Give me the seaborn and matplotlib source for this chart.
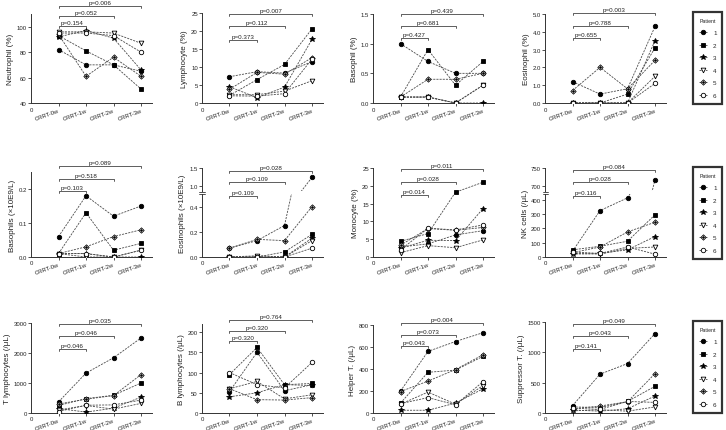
import matplotlib
matplotlib.use('Agg')
import matplotlib.pyplot as plt
import matplotlib.transforms as mtransforms
from matplotlib.path import Path
from matplotlib.lines import Line2D
import pandas as pd
import seaborn as sns

sns.set_style('ticks')
plt.rcParams['font.family'] = ['Liberation Sans', 'DejaVu Sans']

timepoints = ['CRRT-0w', 'CRRT-1w', 'CRRT-2w', 'CRRT-3w']
patients = ['1', '2', '3', '4', '5', '6']

# rows = patients 1..6, columns = timepoints
neutrophil_pct = [[82, 70, 70, 65], [93, 81, 70, 51], [92, 97, 91, 66],
                  [96, 96, 95, 87], [94, 61, 76, 61], [95, 95, 93, 80]]
lymphocyte_pct = [[7.3, 8.7, 8.3, 11.5], [2.1, 6.5, 10.7, 20.6], [4.5, 1.5, 4.4, 17.7],
                  [2.3, 2.3, 3.3, 6.2], [3.8, 8.5, 8.0, 12.6], [2.0, 1.9, 2.6, 12.2]]
basophil_pct = [[1.0, 0.7, 0.5, 0.5], [0.1, 0.9, 0.3, 0.7], [0.1, 0.1, 0.0, 0.0],
                [0.1, 0.1, 0.0, 0.3], [0.1, 0.4, 0.4, 0.5], [0.1, 0.1, 0.0, 0.3]]
eosinophil_pct = [[1.2, 0.5, 0.8, 4.3], [0.0, 0.0, 0.5, 3.1], [0.0, 0.0, 0.0, 3.5],
                  [0.0, 0.0, 0.0, 1.5], [0.7, 2.0, 0.8, 2.4], [0.0, 0.0, 0.0, 1.1]]
basophils_abs = [[0.06, 0.18, 0.12, 0.15], [0.01, 0.13, 0.02, 0.04], [0.01, 0.01, 0.0, 0.0],
                 [0.01, 0.0, 0.0, 0.02], [0.01, 0.03, 0.06, 0.08], [0.01, 0.01, 0.0, 0.02]]
eosinophils_abs = [[0.07, 0.13, 0.25, 1.24], [0.0, 0.0, 0.04, 0.18], [0.0, 0.0, 0.0, 0.15],
                   [0.0, 0.01, 0.0, 0.13], [0.07, 0.14, 0.13, 0.40], [0.0, 0.0, 0.0, 0.07]]
monocyte_pct = [[2.8, 3.7, 6.2, 7.4], [4.4, 6.6, 18.2, 21.0], [2.5, 4.7, 4.6, 13.6],
                [1.2, 3.2, 2.6, 4.8], [3.3, 8.0, 7.5, 8.3], [2.0, 8.1, 7.6, 9.0]]
nk_cells = [[40, 324, 413, 717], [50, 75, 110, 295], [20, 25, 50, 143],
            [25, 20, 60, 70], [30, 70, 175, 243], [35, 25, 70, 20]]
t_lymph = [[370, 1330, 1840, 2500], [250, 480, 590, 1000], [150, 30, 160, 530],
           [100, 250, 130, 320], [300, 460, 580, 1280], [50, 260, 270, 430]]
b_lymph = [[53, 150, 55, 70], [95, 162, 70, 73], [40, 50, 70, 68],
           [60, 78, 35, 45], [60, 33, 32, 38], [100, 70, 62, 125]]
helper_t = [[200, 560, 650, 730], [90, 370, 390, 515], [25, 25, 90, 220],
            [80, 190, 80, 250], [195, 290, 395, 530], [85, 140, 75, 285]]
suppressor_t = [[120, 640, 815, 1310], [100, 90, 190, 440], [50, 30, 70, 280],
                [35, 55, 30, 100], [70, 115, 185, 650], [80, 60, 190, 175]]

# p-values: vs 1w, 2w, 3w
p_neutrophil = ['p=0.154', 'p=0.052', 'p=0.006']
p_lymphocyte = ['p=0.373', 'p=0.112', 'p=0.007']
p_basophil = ['p=0.427', 'p=0.681', 'p=0.439']
p_eosinophil = ['p=0.655', 'p=0.788', 'p=0.003']
p_basophils = ['p=0.103', 'p=0.518', 'p=0.089']
p_eosinophils = ['p=0.109', 'p=0.109', 'p=0.028']
p_monocyte = ['p=0.014', 'p=0.028', 'p=0.011']
p_nk = ['p=0.116', 'p=0.028', 'p=0.084']
p_t = ['p=0.046', 'p=0.046', 'p=0.035']
p_b = ['p=0.320', 'p=0.320', 'p=0.764']
p_helper = ['p=0.043', 'p=0.073', 'p=0.004']
p_suppressor = ['p=0.141', 'p=0.043', 'p=0.049']

W, H = 726, 431
fig = plt.figure(figsize=(W / 100, H / 100), dpi=100)
fig.patch.set_facecolor('white')
px_tr = mtransforms.Affine2D().scale(1 / W, -1 / H).translate(0, 1) + fig.transFigure

LINE_C = '#4a4a4a'
AX_C = '#333333'
diamond_cross = Path([(0, 1), (1, 0), (0, -1), (-1, 0), (0, 1), (0, 0.55), (0, -0.55), (-0.55, 0), (0.55, 0)],
                     [Path.MOVETO, Path.LINETO, Path.LINETO, Path.LINETO, Path.CLOSEPOLY,
                      Path.MOVETO, Path.LINETO, Path.MOVETO, Path.LINETO])
MARKERS = ['o', 's', '*', 'v', diamond_cross, 'o']
MS = [3.2, 3.2, 4.2, 3.4, 3.8, 3.2]
FACES = ['black', 'black', 'black', 'white', 'white', 'white']
LS = (0, (2.5, 1.3))

COLS = [31, 202, 373, 545]
AX_W = 121
XLIM = (-1.0, 3.4)


def add_ax(left, top, bottom):
    return fig.add_axes([left / W, 1 - bottom / H, AX_W / W, (bottom - top) / H])


def draw_series(ax, data):
    for i in range(len(patients)):
        df = pd.DataFrame({'t': list(range(len(timepoints))), 'v': data[i]})
        sns.lineplot(data=df, x='t', y='v', ax=ax, estimator=None, errorbar=None, sort=False,
                     color=LINE_C, linewidth=0.6, linestyle=LS, marker=MARKERS[i],
                     markersize=MS[i], markerfacecolor=FACES[i], markeredgecolor='black',
                     markeredgewidth=0.6, legend=False, zorder=3, clip_on=True)
    ax.set_xlabel('')
    ax.set_ylabel('')


def style_ax(ax, ylim, yticks, ylabels, show_x=True, show_top=False):
    ax.set_xlim(*XLIM)
    ax.set_ylim(*ylim)
    ax.set_yticks(yticks)
    ax.set_yticklabels(ylabels)
    ax.patch.set_alpha(0)
    ax.spines['top'].set_visible(False)
    ax.spines['right'].set_visible(False)
    for s in ['left', 'bottom']:
        ax.spines[s].set_linewidth(0.7)
        ax.spines[s].set_color(AX_C)
    ax.tick_params(axis='both', length=2, width=0.6, color=AX_C, labelsize=4.3, pad=1,
                   labelcolor='#222222')
    if show_x:
        ax.set_xticks(range(len(timepoints)))
        ax.set_xticklabels(timepoints, rotation=20, ha='right', rotation_mode='anchor', fontsize=4.2)
    else:
        ax.spines['bottom'].set_visible(False)
        ax.set_xticks([])


def brackets(ax, ys, pvals):
    tr = mtransforms.blended_transform_factory(ax.transData, px_tr)
    for k, (y, p) in enumerate(zip(ys, pvals), start=1):
        ax.plot([0, 0, k, k], [y + 2, y, y, y + 2], transform=tr, clip_on=False,
                color='#444444', lw=0.6)
        ax.text(k / 2, y - 1.2, p, transform=tr, ha='center', va='bottom', fontsize=4.5,
                color='#222222')


def origin_zero(left, bottom):
    fig.text(left / W, 1 - (bottom + 6) / H, '0', ha='center', va='center', fontsize=4.3,
             color='#222222')


panels = [
    dict(col=0, top=15, bottom=104, data=neutrophil_pct, label='Neutrophil (%)', ylim=(40, 110),
         yt=[40, 60, 80, 100], yl=['40', '60', '80', '100'], br=[27, 17, 7], p=p_neutrophil),
    dict(col=1, top=14, bottom=104, data=lymphocyte_pct, label='Lymphocyte (%)', ylim=(0, 25),
         yt=[0, 5, 10, 15, 20, 25], yl=['0', '5', '10', '15', '20', '25'], br=[41, 27, 15], p=p_lymphocyte),
    dict(col=2, top=15, bottom=104, data=basophil_pct, label='Basophil (%)', ylim=(0, 1.5),
         yt=[0, 0.5, 1.0, 1.5], yl=['0.0', '0.5', '1.0', '1.5'], br=[39, 27, 15], p=p_basophil),
    dict(col=3, top=15, bottom=104, data=eosinophil_pct, label='Eosinophil (%)', ylim=(0, 5),
         yt=[0, 1, 2, 3, 4, 5], yl=['0.0', '1.0', '2.0', '3.0', '4.0', '5.0'], br=[39, 27, 14], p=p_eosinophil),
    dict(col=0, top=173, bottom=258, data=basophils_abs, label='Basophils (×10E9/L)', ylim=(0, 0.25),
         yt=[0, 0.1, 0.2], yl=['0.0', '0.1', '0.2'], br=[192, 180, 167], p=p_basophils),
    dict(col=1, top=195, bottom=258, data=eosinophils_abs, label='Eosinophils (×10E9/L)', ylim=(0, 0.5),
         yt=[0, 0.2, 0.4], yl=['0.0', '0.2', '0.4'], br=[197, 183, 172], p=p_eosinophils,
         upper=dict(top=169, bottom=192, ylim=(0.86, 1.5), yt=[1.0, 1.5], yl=['1.0', '1.5'])),
    dict(col=2, top=169, bottom=258, data=monocyte_pct, label='Monocyte (%)', ylim=(0, 25),
         yt=[0, 5, 10, 15, 20, 25], yl=['0', '5', '10', '15', '20', '25'], br=[196, 183, 170], p=p_monocyte),
    dict(col=3, top=195, bottom=258, data=nk_cells, label='NK cells (/μL)', ylim=(0, 440),
         yt=[0, 100, 200, 300, 400], yl=['0', '100', '200', '300', '400'], br=[197, 183, 171], p=p_nk,
         upper=dict(top=169, bottom=192, ylim=(686, 750), yt=[700, 750], yl=['700', '750'])),
    dict(col=0, top=324, bottom=414, data=t_lymph, label='T lymphocytes (/μL)', ylim=(0, 3000),
         yt=[0, 1000, 2000, 3000], yl=['0', '1000', '2000', '3000'], br=[350, 337, 325], p=p_t),
    dict(col=1, top=325, bottom=414, data=b_lymph, label='B lymphocytes (/μL)', ylim=(0, 220),
         yt=[0, 50, 100, 150, 200], yl=['0', '50', '100', '150', '200'], br=[342, 332, 321], p=p_b),
    dict(col=2, top=326, bottom=414, data=helper_t, label='Helper T. (/μL)', ylim=(0, 800),
         yt=[0, 200, 400, 600, 800], yl=['0', '200', '400', '600', '800'], br=[347, 336, 324], p=p_helper),
    dict(col=3, top=323, bottom=414, data=suppressor_t, label='Suppressor T. (/μL)', ylim=(0, 1500),
         yt=[0, 500, 1000, 1500], yl=['0', '500', '1000', '1500'], br=[350, 337, 325], p=p_suppressor),
]

for pn in panels:
    left = COLS[pn['col']]
    ax = add_ax(left, pn['top'], pn['bottom'])
    draw_series(ax, pn['data'])
    style_ax(ax, pn['ylim'], pn['yt'], pn['yl'])
    if 'upper' in pn:
        up = pn['upper']
        axu = add_ax(left, up['top'], up['bottom'])
        draw_series(axu, pn['data'])
        style_ax(axu, up['ylim'], up['yt'], up['yl'], show_x=False)
        # y-label centred on the combined height
        center = (up['top'] + pn['bottom']) / 2
        yfrac = (pn['bottom'] - center) / (pn['bottom'] - pn['top'])
        ax.set_ylabel(pn['label'], fontsize=5.8, color='#222222')
        ax.yaxis.set_label_coords(-0.13, yfrac)
        # small break marks on the y axis
        for yb in [up['bottom'] + 0.5, pn['top'] - 0.5]:
            fig.lines.append(Line2D([(left - 2.5) / W, (left + 2.5) / W], [1 - yb / H, 1 - yb / H],
                                    transform=fig.transFigure, color=AX_C, lw=0.6))
    else:
        ax.set_ylabel(pn['label'], fontsize=5.8, color='#222222', labelpad=2)
    brackets(ax, pn['br'], pn['p'])
    origin_zero(left, pn['bottom'])

handles = [Line2D([], [], color=LINE_C, lw=0.6, linestyle=LS, marker=MARKERS[i], markersize=MS[i],
                  markerfacecolor=FACES[i], markeredgecolor='black', markeredgewidth=0.6)
           for i in range(len(patients))]
for top in [13, 168, 322]:
    leg = fig.legend(handles, patients, title='Patient', loc='upper left',
                     bbox_to_anchor=(693 / W, 1 - top / H), bbox_transform=fig.transFigure,
                     frameon=True, fancybox=False, fontsize=4.5, title_fontsize=3.8,
                     handlelength=1.4, handletextpad=0.9, labelspacing=1.15, borderpad=0.9,
                     borderaxespad=0)
    leg.get_frame().set_edgecolor('black')
    leg.get_frame().set_linewidth(1.6)

fig.savefig('out.png', dpi=100, facecolor='white')
